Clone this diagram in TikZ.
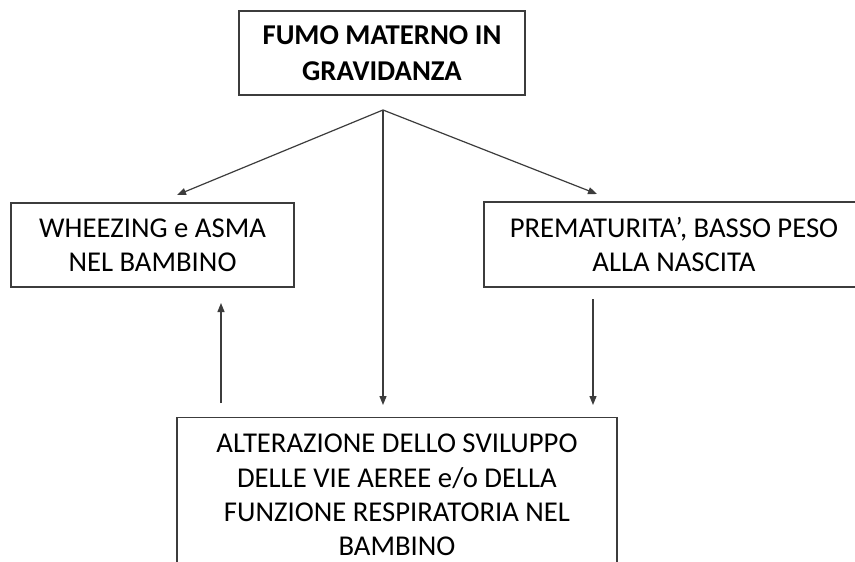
\documentclass[tikz,border=0pt]{standalone}
\usepackage{fontspec}
\setmainfont{Carlito}
\usetikzlibrary{arrows.meta}
\definecolor{linegray}{HTML}{3C3C3C}
\tikzset{
  box/.style={draw=linegray, line width=1.3pt, inner sep=0pt, align=center,
    font=\fontsize{28.7}{34.3}\selectfont},
  conn/.style={draw=linegray, line width=1.2pt, -{Triangle[length=9pt,width=7pt]}},
  plain/.style={draw=linegray, line width=1.2pt}
}
\begin{document}
\begin{tikzpicture}[x=1pt,y=-1pt]
\clip (0,0) rectangle (855,562);
\fill[white] (0,0) rectangle (855,562);
% boxes
\node[box, minimum width=286pt, minimum height=84pt, font=\bfseries\fontsize{28.7}{36}\selectfont] (top) at (382,53) {FUMO MATERNO IN\\GRAVIDANZA};
\node[box, minimum width=283pt, minimum height=84pt] (left) at (152.5,245) {WHEEZING e ASMA\\NEL BAMBINO};
\node[box, minimum width=380pt, minimum height=85pt] (right) at (674,244.5) {PREMATURITA’, BASSO PESO\\ALLA NASCITA};
\node[box, minimum width=440pt, minimum height=190pt, anchor=north] (bot) at (397,417) {};
\node[align=center, inner sep=0pt, font=\fontsize{28.7}{34.3}\selectfont] (bottext) at (397,495) {ALTERAZIONE DELLO SVILUPPO\\DELLE VIE AEREE e/o DELLA\\FUNZIONE RESPIRATORIA NEL\\BAMBINO};
% connector points
\coordinate (b) at (383,110);
\coordinate (tl) at (177,195);
\coordinate (tr) at (597,194);
\coordinate (tm) at (383,405);
\coordinate (ls) at (221,403);
\coordinate (le) at (221,303);
\coordinate (rs) at (593,299);
\coordinate (re) at (593,405);
% connectors
\draw[conn] (b) -- (tl);
\draw[conn] (b) -- (tr);
\draw[conn] (b) -- (tm);
\draw[conn] (ls) -- (le);
\draw[conn] (rs) -- (re);
\end{tikzpicture}
\end{document}
